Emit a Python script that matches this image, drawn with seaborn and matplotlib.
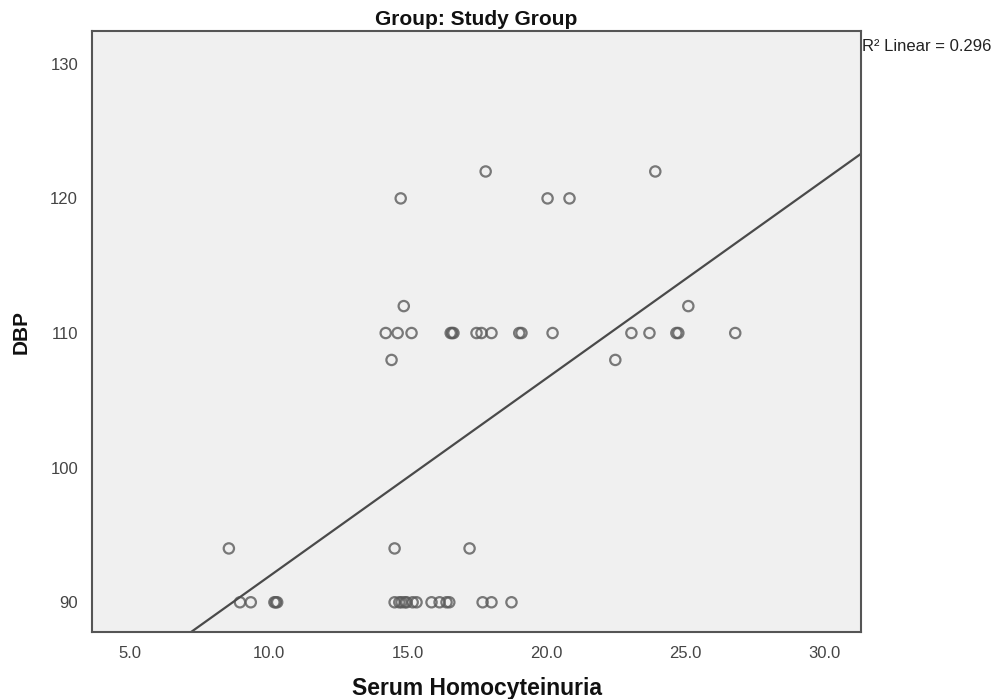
import matplotlib
matplotlib.use("Agg")
import matplotlib.pyplot as plt
import seaborn as sns
import pandas as pd

# Data (Serum Homocyteinuria vs DBP)
homocyteinuria = [
    8.96, 9.35, 10.2, 10.25, 10.3, 14.53, 14.7, 14.78, 14.9, 14.96, 15.18, 15.32,
    15.86, 16.15, 16.4, 16.5, 17.7, 18.02, 18.74,
    8.56, 14.53, 17.23,
    14.42, 22.48,
    14.21, 14.64, 15.14, 16.55, 16.6, 16.65, 17.48, 17.66, 18.02, 19.02, 19.1,
    20.22, 23.06, 23.71, 24.68, 24.75, 26.8,
    14.86, 25.11,
    14.75, 20.04, 20.83,
    17.81, 23.92,
]
dbp = (
    [90] * 19 +
    [94] * 3 +
    [108] * 2 +
    [110] * 17 +
    [112] * 2 +
    [120] * 3 +
    [122] * 2
)
x_ticks = [5.0, 10.0, 15.0, 20.0, 25.0, 30.0]
y_ticks = [90, 100, 110, 120, 130]
title_text = "Group: Study Group"
r2_text = "R\u00b2 Linear = 0.296"

df = pd.DataFrame({"Serum Homocyteinuria": homocyteinuria, "DBP": dbp})

sns.set_style("white")
plt.rcParams["font.family"] = ["Liberation Sans", "DejaVu Sans"]

fig = plt.figure(figsize=(10, 6.99), dpi=100)
ax = fig.add_axes([0.092, 0.096, 0.769, 0.859])
ax.set_facecolor("#f0f0f0")
ax.set_xlim(3.63, 31.33)
ax.set_ylim(87.8, 132.4)

sns.regplot(
    data=df, x="Serum Homocyteinuria", y="DBP", ax=ax, ci=None, truncate=False,
    scatter_kws=dict(s=55, facecolors="none", edgecolors="#5a5a5a", linewidths=1.6),
    line_kws=dict(color="#4a4a4a", linewidth=1.6),
)
ax.set_xlim(3.63, 31.33)
ax.set_ylim(87.8, 132.4)

ax.set_xticks(x_ticks)
ax.set_xticklabels([f"{v:.1f}" for v in x_ticks])
ax.set_yticks(y_ticks)
ax.set_yticklabels([str(v) for v in y_ticks])
ax.tick_params(axis="both", direction="out", length=6, width=1.3, color="#444444",
               labelsize=12, labelcolor="#444444", pad=4)
for sp in ax.spines.values():
    sp.set_color("#555555")
    sp.set_linewidth(1.5)

ax.set_xlabel("Serum Homocyteinuria", fontsize=16.5, fontweight="bold", labelpad=12, color="#111111")
ax.set_ylabel("DBP", fontsize=15, fontweight="bold", labelpad=14, color="#111111")
ax.set_title(title_text, fontsize=15, fontweight="bold", pad=5, color="#111111")
ax.text(1.001, 0.975, r2_text, transform=ax.transAxes, ha="left", va="center",
        fontsize=12, color="#222222")

fig.savefig("out.png", dpi=100, facecolor="white")
